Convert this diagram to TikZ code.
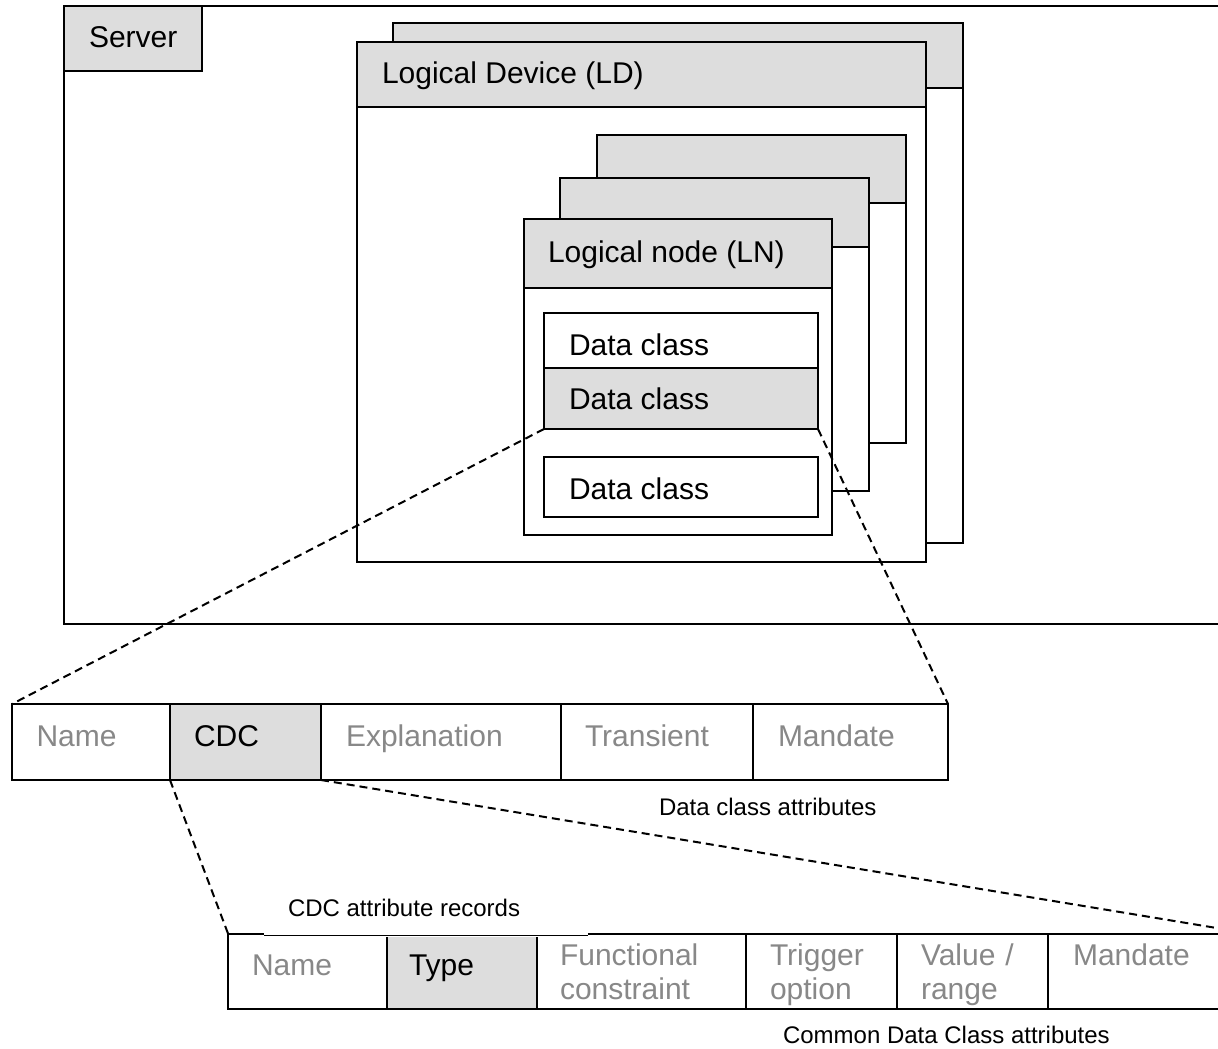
\documentclass[tikz,border=0pt]{standalone}
\usepackage{fontspec}
\setmainfont{Liberation Sans}
\definecolor{hdrgray}{RGB}{221,221,221}
\definecolor{fadedtext}{RGB}{136,136,136}
\tikzset{
  frame/.style={draw=black, line width=2pt, fill=white, inner sep=0pt, outer sep=0pt, anchor=north west},
  hdr/.style={frame, fill=hdrgray},
  txt/.style={anchor=base west, inner sep=0pt, outer sep=0pt, font=\fontsize{30}{34}\selectfont},
  faint/.style={txt, text=fadedtext},
  twoline/.style={faint, text width=180pt, align=left},
  note/.style={anchor=base west, inner sep=0pt, outer sep=0pt, font=\fontsize{24}{28}\selectfont},
  zoomline/.style={draw=black, line width=2pt, dash pattern=on 8pt off 5pt},
}
\begin{document}
\begin{tikzpicture}[x=1pt, y=-1pt]
\useasboundingbox (0,0) rectangle (1218,1049);
\clip (0,0) rectangle (1218,1049);

% server frame with its title tab
\node[frame, minimum width=1186, minimum height=618] (srv) at (64,5.7) {};
\node[hdr, minimum width=138, minimum height=65] (srvtab) at (64,5.7) {};
\node[txt] (srvtxt) at (89,47.5) {Server};

% logical devices (back copy, then front)
\node[frame, minimum width=570, minimum height=520] (ldb) at (393,23) {};
\node[hdr, minimum width=570, minimum height=65] (ldbh) at (393,23) {};
\node[frame, minimum width=569, minimum height=520] (ldf) at (357,42) {};
\node[hdr, minimum width=569, minimum height=65] (ldfh) at (357,42) {};
\node[txt] (ldtxt) at (382,83.5) {Logical Device (LD)};

% stack of logical nodes
\node[frame, minimum width=309, minimum height=308] (ln3) at (597,135) {};
\node[hdr, minimum width=309, minimum height=68] (ln3h) at (597,135) {};
\node[frame, minimum width=309, minimum height=313] (ln2) at (560,178) {};
\node[hdr, minimum width=309, minimum height=69] (ln2h) at (560,178) {};
\node[frame, minimum width=308, minimum height=316] (ln1) at (524,219) {};
\node[hdr, minimum width=308, minimum height=69] (ln1h) at (524,219) {};
\node[txt] (lntxt) at (548,262) {Logical node (LN)};

% data classes
\node[frame, minimum width=274, minimum height=55] (dc1) at (544,313) {};
\node[hdr, minimum width=274, minimum height=61] (dc2) at (544,368) {};
\node[frame, minimum width=274, minimum height=60] (dc3) at (544,457) {};
\node[txt] (dc1txt) at (569,355) {Data class};
\node[txt] (dc2txt) at (569,409) {Data class};
\node[txt] (dc3txt) at (569,499) {Data class};

% data class attribute table
\node[frame, minimum width=158, minimum height=76] (ta) at (12,704) {};
\node[hdr,   minimum width=151, minimum height=76] (tb) at (170,704) {};
\node[frame, minimum width=240, minimum height=76] (tc) at (321,704) {};
\node[frame, minimum width=192, minimum height=76] (td) at (561,704) {};
\node[frame, minimum width=195, minimum height=76] (te) at (753,704) {};
\node[faint] (tatxt) at (36.5,746) {Name};
\node[txt]   (tbtxt) at (194,746) {CDC};
\node[faint] (tctxt) at (346,746) {Explanation};
\node[faint] (tdtxt) at (585,746) {Transient};
\node[faint] (tetxt) at (778,746) {Mandate};
\node[note] (tcap) at (659,815) {Data class attributes};

% common data class attribute table
\node[frame, minimum width=159, minimum height=75] (ua) at (228,933.5) {};
\node[hdr,   minimum width=150, minimum height=75] (ub) at (387,933.5) {};
\node[frame, minimum width=209, minimum height=75] (uc) at (537,933.5) {};
\node[frame, minimum width=151, minimum height=75] (ud) at (746,933.5) {};
\node[frame, minimum width=151, minimum height=75] (ue) at (897,933.5) {};
\node[frame, minimum width=202, minimum height=75] (uf) at (1048,933.5) {};
% lighter top edge under the records caption
\fill[white] (264,931) rectangle (588,936.5);
\draw[line width=0.9pt] (264,935) -- (588,935);
\node[note] (ucap1) at (288,916.7) {CDC attribute records};
\node[faint] (uatxt) at (252,975.5) {Name};
\node[txt]   (ubtxt) at (409,975.5) {Type};
\node[twoline] (uctxt) at (560,965.5) {Functional\\constraint};
\node[twoline] (udtxt) at (770,965.5) {Trigger\\option};
\node[twoline] (uetxt) at (921,965.5) {Value /\\range};
\node[faint] (uftxt) at (1073,965.5) {Mandate};
\node[note] (ucap2) at (783,1043) {Common Data Class attributes};

% zoom-out projection lines
\draw[zoomline] (dc2.south west) -- (ta.north west);
\draw[zoomline] (dc2.south east) -- (te.north east);
\draw[zoomline] (tb.south west) -- (ua.north west);
\draw[zoomline] (tb.south east) -- (uf.north east);
\end{tikzpicture}
\end{document}
